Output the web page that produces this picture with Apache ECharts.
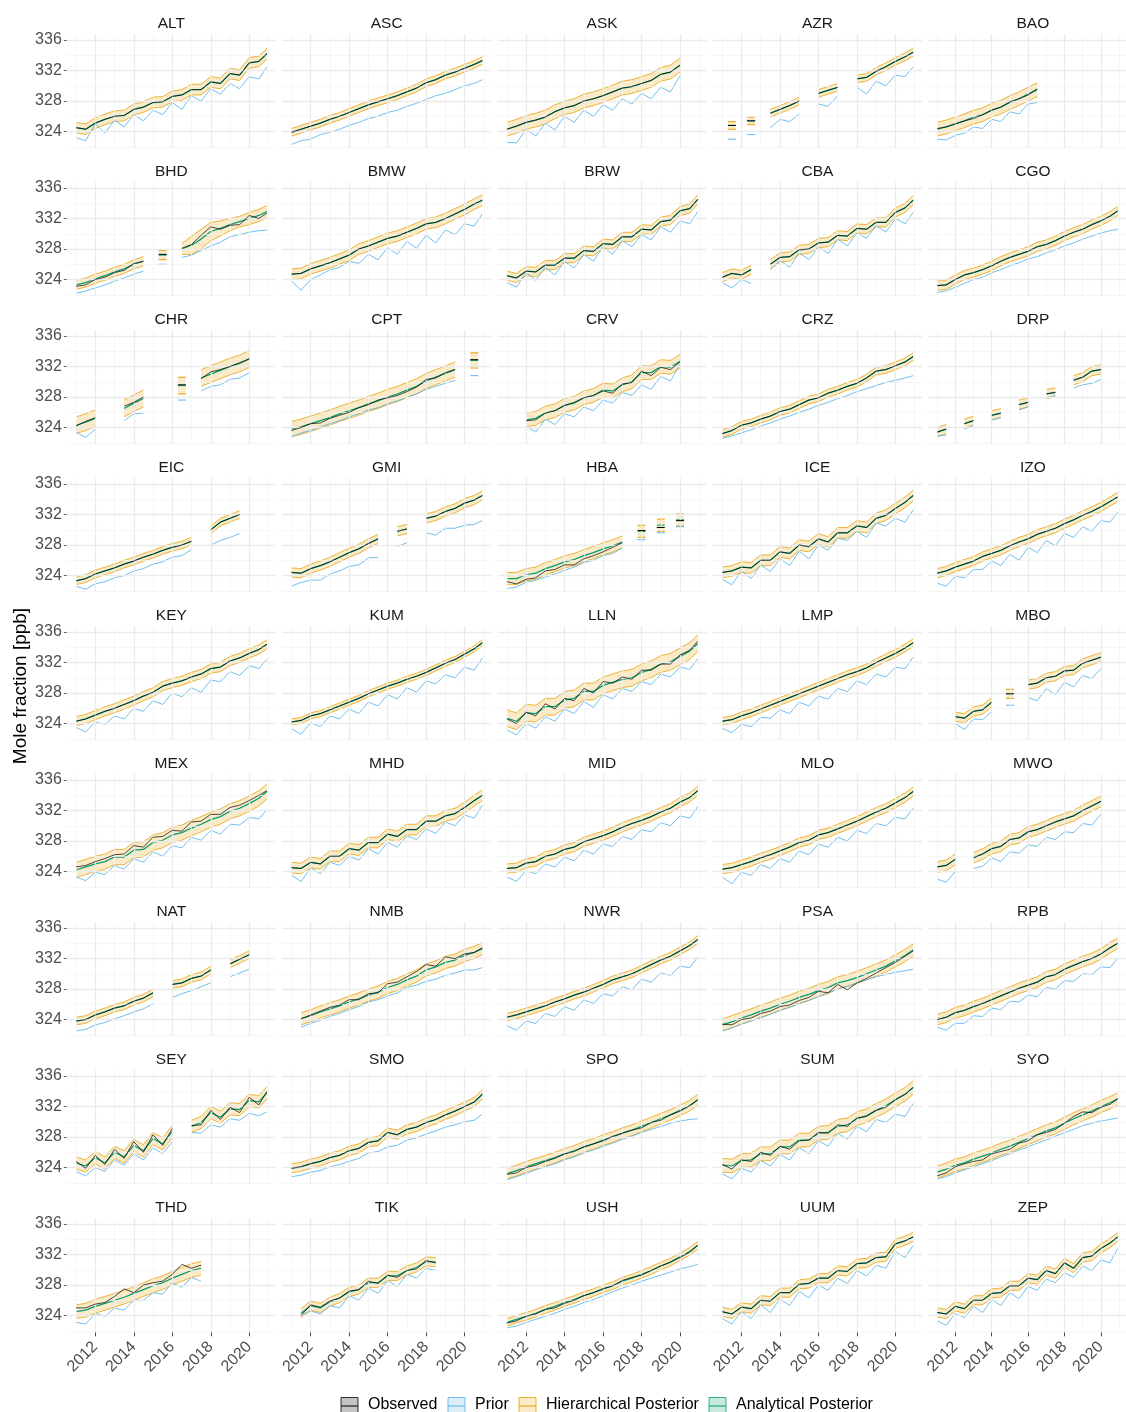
<!DOCTYPE html>
<html>
<head>
<meta charset="utf-8">
<script src="https://cdn.jsdelivr.net/npm/echarts@6.0.0/dist/echarts.min.js"></script>
<style>
html, body { margin: 0; padding: 0; background: #fff; }
#main { width: 1126px; height: 1412px; }
</style>
</head>
<body>
<div id="main"></div>
<script>
// time axis (decimal years, half-year steps)
var times = [2011.0, 2011.5, 2012.0, 2012.5, 2013.0, 2013.5, 2014.0, 2014.5, 2015.0, 2015.5, 2016.0,
             2016.5, 2017.0, 2017.5, 2018.0, 2018.5, 2019.0, 2019.5, 2020.0, 2020.5, 2020.92];
var xMajor = [2012, 2014, 2016, 2018, 2020];
var xMinor = [2011, 2013, 2015, 2017, 2019, 2021];
var yMajor = [324, 328, 332, 336];
var yMinor = [322, 326, 330, 334];

var stations = ['ALT','ASC','ASK','AZR','BAO',
                'BHD','BMW','BRW','CBA','CGO',
                'CHR','CPT','CRV','CRZ','DRP',
                'EIC','GMI','HBA','ICE','IZO',
                'KEY','KUM','LLN','LMP','MBO',
                'MEX','MHD','MID','MLO','MWO',
                'NAT','NMB','NWR','PSA','RPB',
                'SEY','SMO','SPO','SUM','SYO',
                'THD','TIK','USH','UUM','ZEP'];

// observed, analytical posterior (post) and prior, ppb
var obsALT = [324.5,324.3,325.1,325.6,326.0,326.1,326.9,327.2,327.8,327.9,328.6,328.8,329.5,329.5,330.5,330.3,331.6,331.4,333.0,333.2,334.2];
var priorALT = [323.2,322.8,325.0,323.8,325.5,324.6,326.2,325.4,326.8,326.2,327.8,326.9,328.7,328.0,329.6,328.9,330.3,329.6,331.2,330.9,332.5];

var obsASC = [323.9,324.3,324.7,325.1,325.6,326.0,326.5,327.0,327.5,327.9,328.3,328.7,329.2,329.7,330.4,330.8,331.4,331.8,332.3,332.8,333.3];
var priorASC = [322.3,322.8,323.0,323.6,323.9,324.3,324.8,325.2,325.7,326.0,326.5,326.8,327.3,327.7,328.2,328.7,329.0,329.5,330.0,330.3,330.8];

var obsASK = [324.3,324.7,325.2,325.5,325.9,326.6,327.1,327.4,328.0,328.3,328.7,329.2,329.7,329.9,330.3,330.7,331.5,331.8,332.7,null,null];
var priorASK = [322.6,322.5,324.3,323.4,325.1,324.2,326.0,325.2,326.8,326.0,327.5,326.8,328.3,327.6,329.0,328.3,329.8,329.2,331.3,null,null];

var obsAZR = [null,324.8,null,325.4,null,326.4,326.9,327.4,328.0,null,329.0,329.4,329.8,null,330.9,331.1,331.9,332.5,333.2,333.8,334.4];
var priorAZR = [null,323.0,null,323.6,null,324.5,325.6,325.3,326.3,null,327.6,327.3,328.7,null,329.8,328.9,330.6,330.0,331.4,331.2,332.5];

var obsBAO = [324.4,324.6,325.0,325.4,325.7,326.2,326.8,327.2,327.9,328.3,328.8,329.6,null,null,null,null,null,null,null,null,null];
var postBAO = [324.3,324.6,325.0,325.4,325.9,326.2,326.8,327.2,327.8,328.3,328.9,329.5,null,null,null,null,null,null,null,null,null];
var priorBAO = [323.0,322.9,323.5,323.8,324.6,324.4,325.6,325.3,326.6,326.3,327.6,327.8,null,null,null,null,null,null,null,null,null];

var obsBHD = [323.1,323.3,324.0,324.3,324.9,325.2,326.1,326.4,null,327.3,null,328.1,328.6,329.8,330.9,330.6,331.1,331.2,332.4,332.0,332.7];
var postBHD = [323.3,323.6,324.1,324.5,325.0,325.4,326.0,326.4,null,327.2,null,328.0,328.5,329.3,330.3,330.7,331.2,331.6,332.0,332.4,332.9];
var priorBHD = [322.2,322.5,322.9,323.3,323.8,324.2,324.7,325.1,null,326.0,null,326.9,327.2,327.8,328.4,328.9,329.6,329.9,330.2,330.4,330.5];

var obsBMW = [324.7,324.8,325.4,325.8,326.2,326.7,327.2,328.0,328.4,328.9,329.4,329.7,330.2,330.7,331.3,331.5,332.0,332.6,333.2,333.9,334.4];
var priorBMW = [323.8,322.6,324.0,324.6,325.3,325.6,326.4,326.1,327.3,326.6,328.2,327.3,329.0,328.1,329.8,328.8,330.5,329.9,331.3,331.0,332.6];

var obsBRW = [324.5,324.2,325.1,325.0,325.9,325.9,326.8,326.8,327.8,327.7,328.7,328.6,329.6,329.6,330.6,330.5,331.6,331.8,333.0,333.3,334.5];
var priorBRW = [323.6,323.0,324.9,323.9,325.6,324.6,326.4,325.5,327.3,326.4,328.3,327.3,329.1,328.3,329.9,329.2,330.9,330.2,331.7,331.3,332.9];

var obsCBA = [324.3,324.8,324.6,325.3,null,326.0,326.9,327.0,327.9,328.0,328.8,328.9,329.8,329.7,330.7,330.6,331.5,331.5,332.8,333.4,334.4];
var priorCBA = [323.6,322.9,324.0,323.5,null,325.3,326.5,325.6,327.5,326.6,328.3,327.4,329.3,328.4,330.1,329.4,331.1,330.2,332.0,331.3,332.8];

var obsCGO = [323.2,323.3,324.0,324.6,324.9,325.3,325.8,326.4,326.9,327.3,327.7,328.3,328.6,329.1,329.7,330.2,330.6,331.2,331.7,332.3,333.0];
var priorCGO = [322.3,322.5,323.0,323.5,324.0,324.3,324.9,325.3,325.8,326.2,326.7,327.0,327.5,327.9,328.4,328.8,329.3,329.7,330.1,330.4,330.6];

var obsCHR = [324.2,324.8,325.3,null,null,326.8,327.3,328.0,null,null,null,329.6,null,330.4,331.3,331.6,332.0,332.5,333.0,null,null];
var postCHR = [324.3,324.7,325.2,null,null,326.5,327.2,327.8,null,null,null,329.5,null,330.5,331.0,331.5,332.0,332.4,333.0,null,null];
var priorCHR = [323.4,322.7,323.8,null,null,324.9,325.8,325.9,null,null,null,327.6,null,328.8,329.4,329.6,330.3,330.5,331.2,null,null];

var obsCPT = [323.6,324.0,324.5,324.6,325.2,325.6,326.0,326.6,327.0,327.6,327.9,328.2,328.7,329.3,330.3,330.5,331.2,331.6,null,332.9,null];
var postCPT = [323.8,324.1,324.5,324.9,325.3,325.8,326.2,326.6,327.1,327.5,328.0,328.4,328.9,329.4,330.1,330.6,331.1,331.6,null,332.8,null];
var priorCPT = [322.8,323.3,323.6,324.1,324.5,324.9,325.4,325.8,326.3,326.6,327.1,327.5,328.0,328.4,329.0,329.4,329.8,330.2,null,330.8,null];

var obsCRV = [null,null,324.9,325.0,325.9,326.2,326.9,327.3,327.9,328.2,328.8,328.5,329.7,329.9,331.4,330.8,331.9,331.6,332.6,null,null];
var postCRV = [null,null,325.0,325.2,325.9,326.2,326.9,327.2,327.9,328.2,328.9,328.8,329.6,330.0,331.2,331.2,332.0,331.9,332.7,null,null];
var priorCRV = [null,null,324.2,323.4,325.1,324.4,325.8,325.4,326.7,326.2,327.6,327.2,328.6,328.2,329.6,329.0,330.7,330.1,332.3,null,null];

var obsCRZ = [323.2,323.6,324.3,324.6,325.1,325.5,326.1,326.4,327.0,327.6,327.9,328.5,328.9,329.4,329.8,330.5,331.4,331.6,332.1,332.6,333.3];
var priorCRZ = [322.6,322.9,323.3,323.7,324.2,324.6,325.1,325.5,326.0,326.4,326.9,327.3,327.8,328.2,328.7,329.1,329.5,329.9,330.2,330.5,330.8];

var obsDRP = [323.4,323.8,null,324.5,324.9,null,325.6,325.9,null,327.0,327.3,null,328.4,328.6,null,330.2,330.6,331.4,331.6,null,null];
var priorDRP = [322.9,323.0,null,323.8,324.3,null,325.0,325.3,null,326.3,326.7,null,327.9,328.2,null,329.2,329.6,329.8,330.3,null,null];

var obsEIC = [323.3,323.6,324.2,324.6,325.0,325.5,325.9,326.4,326.8,327.3,327.7,328.0,328.5,null,330.0,331.0,331.5,332.0,null,null,null];
var priorEIC = [322.6,322.2,322.9,323.2,323.7,324.0,324.6,324.9,325.5,325.8,326.4,326.6,327.4,null,328.0,328.6,329.0,329.5,null,null,null];

var obsGMI = [324.4,324.3,324.9,325.3,325.8,326.4,327.0,327.5,328.2,328.8,null,329.8,330.1,null,331.5,331.8,332.4,332.8,333.5,333.9,334.5];
var priorGMI = [322.6,323.1,323.4,323.4,324.2,324.6,325.2,325.4,326.3,326.4,null,327.8,328.3,null,329.6,329.3,330.2,330.2,330.6,330.7,331.2];

var obsHBA = [323.2,322.9,323.5,323.7,324.6,324.8,325.4,325.4,326.2,326.6,327.1,327.7,328.3,null,329.9,null,330.3,null,331.2,null,null];
var postHBA = [323.6,323.6,324.1,324.3,324.9,325.3,325.8,326.1,326.6,327.0,327.5,327.9,328.4,null,329.8,null,330.6,null,331.3,null,null];
var priorHBA = [322.3,322.5,323.1,323.4,323.8,324.2,324.7,325.1,325.7,326.0,326.6,326.9,327.6,null,328.7,null,329.6,null,330.4,null,null];

var obsICE = [324.4,324.6,325.1,325.0,326.0,326.0,327.1,326.9,328.0,327.8,328.8,328.4,329.6,329.6,330.5,330.3,331.5,331.9,332.8,333.6,334.5];
var priorICE = [323.5,322.8,324.6,323.6,325.4,324.5,326.2,325.3,327.2,326.2,328.0,327.3,328.9,328.6,329.8,329.0,330.9,330.5,331.5,331.0,332.6];

var obsIZO = [324.3,324.6,325.1,325.5,325.9,326.5,326.9,327.3,327.9,328.4,328.8,329.4,329.8,330.2,330.8,331.3,331.9,332.4,333.0,333.7,334.3];
var priorIZO = [323.0,322.6,323.9,323.7,324.8,324.8,325.9,325.3,326.8,326.0,327.7,327.0,328.6,327.9,329.5,329.0,330.4,329.8,331.2,331.0,332.3];

var obsKEY = [324.3,324.6,325.1,325.6,326.0,326.5,327.0,327.6,328.1,328.9,329.3,329.6,330.1,330.5,331.2,331.4,332.2,332.6,333.2,333.7,334.4];
var priorKEY = [323.5,322.9,324.2,323.9,325.0,324.6,326.0,325.6,327.0,326.5,328.0,327.5,328.7,328.1,329.7,329.5,330.8,330.3,331.6,331.2,332.4];

var obsKUM = [324.2,324.4,325.0,325.3,325.8,326.3,326.8,327.3,327.9,328.4,328.9,329.3,329.8,330.2,330.7,331.3,331.9,332.4,333.1,333.8,334.6];
var priorKUM = [323.3,322.6,324.1,323.6,325.0,324.6,325.9,325.3,326.8,326.3,327.8,327.2,328.7,328.1,329.6,329.2,330.4,330.0,331.4,331.0,332.6];

var obsLLN = [324.6,324.0,325.5,325.0,326.6,325.9,327.3,327.0,328.6,328.0,329.5,329.3,330.1,329.8,331.0,331.0,331.8,331.8,333.0,333.6,334.8];
var postLLN = [324.7,324.3,325.4,325.3,326.2,326.2,327.1,327.3,328.2,328.2,329.0,329.4,329.8,330.0,330.7,331.1,331.8,332.1,332.8,333.5,334.5];
var priorLLN = [323.2,322.5,324.0,323.4,324.9,324.3,325.9,325.3,326.9,326.1,327.8,327.2,328.6,328.2,329.5,329.1,330.5,330.1,331.4,331.1,332.5];

var obsLMP = [324.3,324.5,325.0,325.4,325.9,326.4,326.9,327.4,327.9,328.4,328.9,329.4,329.9,330.4,330.8,331.3,332.0,332.6,333.2,333.9,334.6];
var priorLMP = [323.4,322.8,323.9,323.6,324.8,324.7,325.8,325.3,326.8,326.3,327.6,327.2,328.6,328.2,329.6,329.1,330.5,330.1,331.4,331.2,332.7];

var obsMBO = [null,null,324.9,324.7,325.6,325.8,326.8,null,327.9,null,329.1,329.3,330.0,330.2,330.9,331.0,331.9,332.3,332.7,null,null];
var priorMBO = [null,null,324.0,323.2,324.6,324.5,325.6,null,326.4,null,327.4,327.0,328.6,327.8,329.4,328.8,330.3,329.9,331.2,null,null];

var obsMEX = [324.6,324.8,325.3,325.7,326.2,326.3,327.4,327.2,328.5,328.6,329.4,329.3,330.5,330.6,331.5,331.5,332.4,332.7,333.3,334.0,334.6];
var postMEX = [324.2,324.6,325.0,325.3,325.9,325.9,326.8,326.9,327.8,328.1,328.8,329.1,329.7,330.2,330.8,331.2,331.9,332.3,332.9,333.6,334.5];
var priorMEX = [323.3,322.8,323.9,323.6,324.8,324.3,325.7,325.2,326.6,326.0,327.4,327.1,328.5,328.1,329.4,328.9,330.2,330.1,331.1,330.9,332.1];

var obsMHD = [324.5,324.4,325.2,325.0,326.0,326.0,327.0,326.8,327.8,327.8,328.9,328.6,329.5,329.5,330.6,330.6,331.3,331.6,332.4,333.3,334.0];
var priorMHD = [323.5,322.7,324.5,323.7,325.2,324.8,326.0,325.5,327.0,326.3,327.8,327.2,328.7,328.2,329.6,329.0,330.5,330.0,331.4,331.0,332.7];

var obsMID = [324.4,324.5,325.1,325.3,326.0,326.3,326.9,327.2,327.9,328.3,328.7,329.2,329.8,330.3,330.7,331.2,331.8,332.3,333.1,333.7,334.6];
var priorMID = [323.3,322.7,324.1,323.7,325.0,324.6,325.9,325.4,326.8,326.3,327.6,327.3,328.6,328.2,329.5,329.2,330.4,330.0,331.3,331.0,332.5];

var obsMLO = [324.3,324.5,324.9,325.3,325.8,326.2,326.7,327.2,327.8,328.1,328.8,329.1,329.6,330.1,330.6,331.2,331.8,332.3,333.0,333.7,334.5];
var priorMLO = [323.3,322.4,323.9,323.5,324.9,324.4,325.7,325.2,326.7,326.2,327.6,327.2,328.5,328.0,329.4,329.0,330.3,330.0,331.1,330.9,332.3];

var obsMWO = [324.6,324.8,325.6,null,325.8,326.3,327.0,327.3,328.2,328.4,329.2,329.5,330.0,330.5,330.9,331.3,332.0,332.6,333.2,null,null];
var priorMWO = [323.0,322.6,324.0,null,324.4,324.7,325.8,325.3,326.6,326.4,327.5,327.3,328.5,328.2,329.2,329.1,330.3,330.1,331.5,null,null];

var obsNAT = [323.8,324.0,324.6,325.0,325.5,325.8,326.4,326.8,327.5,null,328.6,328.8,329.4,329.7,330.5,null,331.3,331.9,332.5,null,null];
var priorNAT = [322.5,322.7,323.3,323.6,324.1,324.5,325.0,325.4,326.1,null,326.9,327.4,327.8,328.3,328.8,null,329.6,330.1,330.6,null,null];

var obsNMB = [null,324.1,324.6,325.1,325.6,325.9,326.6,326.6,327.4,327.5,328.7,328.9,329.6,330.3,331.2,331.0,332.2,332.0,332.6,332.8,333.4];
var postNMB = [null,324.1,324.5,325.0,325.4,325.8,326.3,326.7,327.2,327.6,328.2,328.6,329.2,329.7,330.5,330.9,331.5,331.8,332.4,332.8,333.3];
var priorNMB = [null,323.0,323.5,323.9,324.4,324.8,325.3,325.7,326.3,326.6,327.1,327.5,328.2,328.5,329.0,329.3,329.8,330.1,330.5,330.5,330.8];

var obsNWR = [324.3,324.6,325.0,325.4,325.8,326.3,326.7,327.2,327.6,328.1,328.6,329.2,329.6,330.0,330.6,331.2,331.8,332.3,333.0,333.7,334.5];
var priorNWR = [323.2,322.6,323.8,323.5,324.8,324.4,325.7,325.2,326.6,326.1,327.4,327.1,328.3,327.9,329.3,328.9,330.1,329.8,331.0,330.8,332.2];

var obsPSA = [323.4,323.3,324.0,324.2,324.8,325.1,325.7,325.9,326.5,326.9,327.7,327.5,328.6,327.9,328.8,329.4,330.1,330.8,331.5,332.3,333.0];
var postPSA = [323.3,323.7,324.2,324.6,325.1,325.5,326.0,326.4,326.9,327.3,327.8,328.2,328.8,329.1,329.5,330.0,330.5,331.0,331.7,332.4,333.1];
var priorPSA = [322.5,322.9,323.4,323.8,324.2,324.7,325.2,325.6,326.1,326.5,327.0,327.5,328.0,328.4,328.8,329.2,329.6,329.9,330.2,330.4,330.6];

var obsRPB = [324.0,324.3,324.9,325.2,325.7,326.1,326.6,327.1,327.6,328.1,328.5,328.9,329.6,329.9,330.6,331.1,331.6,332.0,332.6,333.4,334.0];
var priorRPB = [323.0,322.6,323.5,323.5,324.5,324.4,325.5,325.3,326.4,326.3,327.2,327.0,328.2,328.0,329.1,329.0,330.0,329.9,330.9,330.8,332.0];

var obsSEY = [324.8,323.9,325.6,324.4,326.4,325.2,327.4,326.0,328.3,326.9,329.1,null,329.5,329.6,331.5,330.3,331.9,331.2,333.2,332.2,334.0];
var postSEY = [324.6,324.2,325.3,324.6,326.0,325.4,326.9,326.2,327.8,327.1,328.7,null,329.4,329.9,331.2,330.6,331.7,331.6,332.8,332.6,333.8];
var priorSEY = [323.5,322.9,324.0,323.5,325.0,324.3,325.8,325.0,326.6,325.8,327.4,null,328.6,328.5,329.6,329.3,330.4,330.2,331.1,330.8,331.3];

var obsSMO = [323.9,324.1,324.5,324.8,325.3,325.6,326.2,326.5,327.3,327.5,328.6,328.3,329.0,329.3,329.9,330.3,330.9,331.4,332.0,332.6,333.6];
var priorSMO = [322.8,323.0,323.4,323.6,324.1,324.4,324.8,325.2,325.9,326.1,326.7,326.9,327.6,327.9,328.4,328.8,329.3,329.6,330.0,330.2,331.0];

var obsSPO = [323.1,323.3,324.0,324.3,324.8,325.2,325.8,326.1,326.7,327.1,327.5,328.1,328.5,328.9,329.2,329.9,330.2,330.9,331.4,332.1,332.9];
var postSPO = [323.2,323.6,324.1,324.5,324.9,325.3,325.8,326.2,326.7,327.1,327.6,328.0,328.5,328.9,329.4,329.9,330.4,330.9,331.5,332.1,332.9];
var priorSPO = [322.4,322.8,323.2,323.7,324.1,324.5,325.0,325.4,325.9,326.3,326.8,327.2,327.7,328.1,328.6,329.0,329.4,329.8,330.1,330.3,330.4];

var obsSUM = [324.4,323.8,325.0,324.8,326.0,325.6,326.8,326.4,327.5,327.6,328.6,328.5,329.6,329.4,330.5,330.7,331.5,331.9,332.9,333.6,334.5];
var postSUM = [324.3,324.2,324.9,325.0,325.8,325.8,326.7,326.7,327.6,327.6,328.5,328.6,329.4,329.6,330.4,330.8,331.5,332.1,332.9,333.6,334.5];
var priorSUM = [323.2,322.5,323.9,323.4,324.9,324.2,325.7,325.0,326.6,325.8,327.5,326.8,328.5,327.7,329.4,328.7,330.3,329.9,331.0,330.7,332.4];

var obsSYO = [322.9,323.3,324.1,324.5,324.8,325.0,325.8,326.1,326.4,327.2,327.5,328.3,328.6,329.0,329.8,330.7,331.3,331.2,331.9,332.3,333.0];
var postSYO = [323.4,323.8,324.3,324.6,325.1,325.5,325.9,326.4,326.8,327.3,327.8,328.3,328.8,329.2,329.8,330.4,330.9,331.4,332.0,332.5,333.0];
var priorSYO = [322.5,322.8,323.3,323.7,324.1,324.5,324.9,325.4,325.8,326.3,326.7,327.2,327.6,328.1,328.6,329.0,329.5,329.8,330.1,330.3,330.5];

var obsTHD = [325.0,325.0,325.5,325.7,326.5,327.5,327.0,328.0,328.3,328.5,329.4,330.7,330.2,330.6,null,null,null,null,null,null,null];
var postTHD = [324.5,324.7,325.2,325.6,326.0,326.4,326.9,327.4,327.9,328.3,328.9,329.4,329.9,330.2,null,null,null,null,null,null,null];
var priorTHD = [323.1,322.9,324.3,323.9,325.0,324.7,326.0,326.0,327.0,326.8,328.3,327.7,329.0,328.5,null,null,null,null,null,null,null];

var obsTIK = [null,324.0,325.4,325.1,325.9,326.3,327.2,327.4,328.5,328.2,329.3,329.0,329.9,330.1,331.2,330.9,null,null,null,null,null];
var postTIK = [null,324.3,325.3,325.0,325.8,326.3,327.1,327.4,328.3,328.3,329.2,329.2,329.9,330.3,331.1,331.0,null,null,null,null,null];
var priorTIK = [null,324.0,324.6,324.2,325.3,325.0,326.6,326.0,327.6,326.9,328.6,327.8,329.4,328.9,330.2,329.9,null,null,null,null,null];

var obsUSH = [323.0,323.3,323.9,324.2,324.8,325.0,325.6,326.0,326.6,327.0,327.5,327.9,328.6,329.0,329.3,329.9,330.5,331.0,331.6,332.3,333.2];
var postUSH = [323.1,323.5,323.9,324.3,324.8,325.2,325.7,326.1,326.6,327.0,327.5,327.9,328.5,328.9,329.4,329.9,330.5,331.0,331.7,332.4,333.2];
var priorUSH = [322.4,322.6,323.1,323.5,323.9,324.3,324.8,325.2,325.7,326.1,326.6,327.1,327.6,328.0,328.5,328.9,329.3,329.7,330.1,330.4,330.7];

var obsUUM = [324.5,324.2,325.1,324.9,326.0,325.9,327.0,327.0,328.1,328.2,328.9,328.9,329.9,329.8,330.8,330.9,331.6,331.7,333.4,333.8,334.3];
var priorUUM = [323.6,322.9,324.5,323.6,325.4,324.4,326.2,325.3,327.2,326.3,328.0,327.3,328.9,328.2,329.9,329.2,330.6,330.2,332.4,331.6,333.2];

var obsZEP = [324.4,324.2,325.2,324.9,326.0,326.0,326.9,327.0,327.9,327.9,328.9,328.7,329.9,329.5,330.9,330.2,331.6,331.8,332.8,333.5,334.3];
var priorZEP = [323.3,322.7,324.3,323.7,325.2,324.4,326.1,325.3,327.0,326.2,327.8,327.3,328.8,328.3,329.6,329.0,330.5,329.9,331.3,330.9,332.8];

// half width of the hierarchical posterior band, ppb
var spreadBHD = [0.6,0.6,0.6,0.6,0.6,0.6,0.6,0.6,0.6,0.6,0.6,0.7,1.2,1.3,1.2,1.0,0.8,0.7,0.8,0.8,0.8];
var spread = [0.7, 0.5, 0.9, 0.5, 0.9,
              spreadBHD, 0.7, 0.6, 0.6, 0.6,
              1.1, 1.0, 0.9, 0.5, 0.6,
              0.5, 0.6, 0.8, 0.7, 0.6,
              0.6, 0.4, 1.1, 0.5, 0.6,
              1.0, 0.7, 0.6, 0.6, 0.7,
              0.5, 0.8, 0.5, 0.8, 0.7,
              0.8, 0.6, 0.7, 0.9, 0.8,
              0.9, 0.6, 0.5, 0.6, 0.6];

var legendNames = ['Observed', 'Prior', 'Hierarchical Posterior', 'Analytical Posterior'];

var font = '"Liberation Sans", Arial, Helvetica, sans-serif';
var cObs = '#000000', cPrior = '#56B4E9', cHier = '#E69F00', cAna = '#009E73';

var colLeft = [66.8, 282.2, 497.6, 713.0, 928.4];
var panelW = 209, panelH = 114, firstTop = 34.3, rowStep = 148;
var xMin = 2010.52, xMax = 2021.38, yMin = 321.8, yMax = 336.75;

var chart = echarts.init(document.getElementById('main'));

function segmentsOf(arr) {
    var segs = [], cur = null;
    arr.forEach(function (v, i) {
        if (v == null) { cur = null; return; }
        if (!cur) { cur = []; segs.push(cur); }
        cur.push(i);
    });
    return segs;
}

// short pieces of data (a lone point between gaps) get a small dash
function lineData(arr) {
    return arr.map(function (v, i) {
        if (v == null) return [times[i], '-'];
        var item = { value: [times[i], v] };
        var lone = (i === 0 || arr[i - 1] == null) && (i === arr.length - 1 || arr[i + 1] == null);
        if (lone) { item.symbol = 'rect'; item.symbolSize = [8, 1]; }
        return item;
    });
}

function lineSeries(k, arr, color, width, z) {
    return {
        type: 'line', xAxisIndex: k, yAxisIndex: k, data: lineData(arr),
        showSymbol: true, showAllSymbol: true, symbol: 'none',
        itemStyle: { color: color }, lineStyle: { color: color, width: width },
        silent: true, z: z, animation: false, clip: true
    };
}

var minorStyle = { color: '#f2f2f2', width: 0.7, type: 'solid' };
var majorStyle = { color: '#ebebeb', width: 1.3, type: 'solid' };
var gridLines = [].concat(
    xMinor.map(function (v) { return { xAxis: v, lineStyle: minorStyle }; }),
    yMinor.map(function (v) { return { yAxis: v, lineStyle: minorStyle }; }),
    xMajor.map(function (v) { return { xAxis: v, lineStyle: majorStyle }; }),
    yMajor.map(function (v) { return { yAxis: v, lineStyle: majorStyle }; })
);

var grids = [], xAxes = [], yAxes = [], series = [], graphics = [];

stations.forEach(function (name, k) {
    var r = Math.floor(k / 5), c = k % 5;
    var obs = window['obs' + name];
    var prior = window['prior' + name];
    var post = window['post' + name] || obs;
    var half = spread[k];
    var lo = post.map(function (v, i) { return v == null ? null : v - (Array.isArray(half) ? half[i] : half); });
    var hi = post.map(function (v, i) { return v == null ? null : v + (Array.isArray(half) ? half[i] : half); });
    var top = firstTop + r * rowStep;

    grids.push({ left: colLeft[c], top: top, width: panelW, height: panelH });

    xAxes.push({
        gridIndex: k, type: 'value', min: xMin, max: xMax,
        splitLine: { show: false }, axisLine: { show: false },
        axisTick: { show: r === 8, customValues: xMajor, length: 4, lineStyle: { color: '#333', width: 0.9 } },
        axisLabel: {
            show: r === 8, customValues: xMajor, rotate: 45, margin: 12,
            fontSize: 16, color: '#4d4d4d', fontFamily: font,
            formatter: function (v) { return String(v); }
        }
    });
    yAxes.push({
        gridIndex: k, type: 'value', min: yMin, max: yMax,
        splitLine: { show: false }, axisLine: { show: false },
        axisTick: { show: c === 0, customValues: yMajor, length: 3, lineStyle: { color: '#333', width: 0.8 } },
        axisLabel: {
            show: c === 0, customValues: yMajor, margin: 5,
            fontSize: 16, color: '#4d4d4d', fontFamily: font,
            formatter: function (v) { return String(v); }
        }
    });

    // panel grid
    series.push({
        type: 'line', xAxisIndex: k, yAxisIndex: k, data: [[xMin, yMin]],
        symbol: 'none', lineStyle: { opacity: 0 }, silent: true, z: 1, animation: false,
        markLine: {
            silent: true, symbol: ['none', 'none'], label: { show: false },
            emphasis: { disabled: true }, animation: false, data: gridLines
        }
    });

    // hierarchical band
    var segs = segmentsOf(post);
    series.push({
        type: 'custom', xAxisIndex: k, yAxisIndex: k, silent: true, z: 2, clip: true, animation: false,
        data: segs.map(function (s) { return [times[s[0]], post[s[0]]]; }),
        renderItem: (function (segs, lo, hi) {
            return function (params, api) {
                var s = segs[params.dataIndex];
                var pts = [];
                if (s.length === 1) {
                    var i = s[0];
                    pts = [[times[i] - 0.2, hi[i]], [times[i] + 0.2, hi[i]],
                           [times[i] + 0.2, lo[i]], [times[i] - 0.2, lo[i]]].map(function (p) { return api.coord(p); });
                } else {
                    s.forEach(function (i) { pts.push(api.coord([times[i], hi[i]])); });
                    for (var j = s.length - 1; j >= 0; j--) pts.push(api.coord([times[s[j]], lo[s[j]]]));
                }
                return { type: 'polygon', shape: { points: pts }, style: { fill: 'rgba(230,159,0,0.22)' } };
            };
        })(segs, lo, hi)
    });

    series.push(lineSeries(k, lo, cHier, 0.75, 3));
    series.push(lineSeries(k, hi, cHier, 0.75, 3));
    series.push(lineSeries(k, prior, cPrior, 0.85, 3));
    series.push(lineSeries(k, post, cAna, 1.25, 4));
    series.push(lineSeries(k, obs, cObs, 0.7, 5));

    graphics.push({
        type: 'text', x: colLeft[c] + panelW / 2, y: top - 11, silent: true,
        style: { text: name, fill: '#1a1a1a', font: '15.5px ' + font, textAlign: 'center', textVerticalAlign: 'middle', align: 'center', verticalAlign: 'middle' }
    });
});

// y axis title
graphics.push({
    type: 'text', x: 21, y: 686, rotation: Math.PI / 2, silent: true,
    style: { text: 'Mole fraction [ppb]', fill: '#000', font: '19px ' + font, textAlign: 'center', textVerticalAlign: 'middle', align: 'center', verticalAlign: 'middle' }
});

// legend
var keyX = [341, 448, 519, 709];
var keyFill = ['#c4c4c4', '#dcecf8', '#fbebc7', '#c9e9df'];
var keyLine = [cObs, cPrior, cHier, cAna];
legendNames.forEach(function (label, i) {
    graphics.push({ type: 'rect', silent: true, shape: { x: keyX[i], y: 1397.5, width: 17, height: 17 },
        style: { fill: keyFill[i], stroke: keyLine[i], lineWidth: 0.8 } });
    graphics.push({ type: 'line', silent: true, shape: { x1: keyX[i], y1: 1406, x2: keyX[i] + 17, y2: 1406 },
        style: { stroke: keyLine[i], lineWidth: 1 } });
    graphics.push({ type: 'text', silent: true, x: keyX[i] + 27, y: 1405,
        style: { text: label, fill: '#000', font: '16px ' + font, textVerticalAlign: 'middle', verticalAlign: 'middle' } });
});

option = {
    backgroundColor: '#ffffff',
    animation: false,
    grid: grids,
    xAxis: xAxes,
    yAxis: yAxes,
    series: series,
    graphic: graphics
};
chart.setOption(option);
</script>
</body>
</html>
